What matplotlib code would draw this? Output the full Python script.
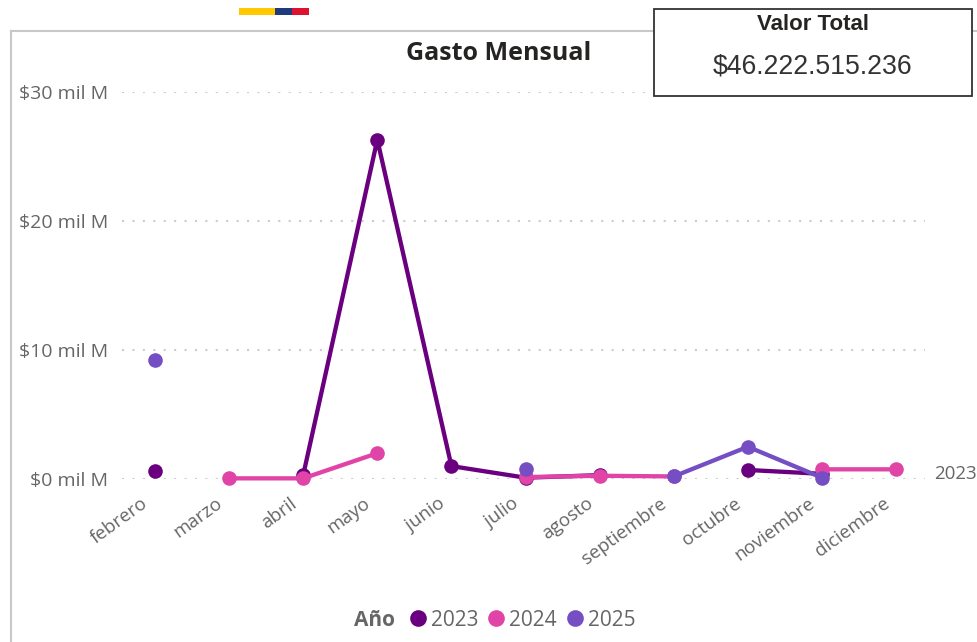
import matplotlib
matplotlib.use("Agg")
import matplotlib.pyplot as plt
from matplotlib.patches import Rectangle
from matplotlib.transforms import ScaledTranslation

W, H = 977, 642
months = ["febrero", "marzo", "abril", "mayo", "junio", "julio", "agosto",
          "septiembre", "octubre", "noviembre", "diciembre"]
nan = float("nan")
gasto_2023 = [0.62, nan, 0.3, 26.3, 1.0, 0.1, 0.3, nan, 0.7, 0.4, nan]
gasto_2024 = [nan, 0.05, 0.05, 2.0, nan, 0.15, 0.25, 0.2, nan, 0.75, 0.75]
gasto_2025 = [9.2, nan, nan, nan, nan, 0.8, nan, 0.2, 2.5, 0.1, nan]
years = ["2023", "2024", "2025"]
colors = ["#6A007F", "#E044A7", "#744EC2"]
y_ticks = [0, 10, 20, 30]
y_labels = ["$0 mil M", "$10 mil M", "$20 mil M", "$30 mil M"]

plt.rcParams["font.family"] = ["Open Sans", "DejaVu Sans"]
gray = "#666666"


def box(x0, y0, x1, y1):
    # pixel box -> figure fractions
    return [x0 / W, 1 - y1 / H, (x1 - x0) / W, (y1 - y0) / H]


fig = plt.figure(figsize=(W / 100, H / 100), dpi=100)

# visual frame, left and top only
fig.add_artist(plt.Line2D([11 / W, 11 / W], [0, 1 - 31 / H], color="#c8c8c8", lw=1.5))
fig.add_artist(plt.Line2D([11 / W, 1], [1 - 31 / H, 1 - 31 / H], color="#c8c8c8", lw=1.5))

# little flag on top
for x0, x1, c in [(239, 275, "#FFC800"), (275, 292, "#1F3A7D"), (292, 309, "#DC1230")]:
    fig.add_artist(Rectangle((x0 / W, 1 - 15 / H), (x1 - x0) / W, 7 / H,
                             transform=fig.transFigure, color=c, lw=0))

ax = fig.add_axes(box(122, 92, 925, 479))
ax.set_xlim(-0.445, 10.39)
ax.set_ylim(0, 30)
ax.patch.set_alpha(0)
for spine in ax.spines.values():
    spine.set_visible(False)

ax.set_yticks(y_ticks)
ax.set_yticklabels(y_labels, fontsize=14, color=gray)
ax.set_xticks(range(len(months)))
ax.set_xticklabels(months, fontsize=13.5, color=gray, rotation=36, ha="right",
                   va="top", rotation_mode="anchor")
ax.tick_params(axis="both", length=0)
ax.tick_params(axis="x", pad=11)
ax.tick_params(axis="y", pad=10)
shift = ScaledTranslation(-14 / 100, 0, fig.dpi_scale_trans)
for label in ax.get_xticklabels():
    label.set_transform(label.get_transform() + shift)
ax.grid(axis="y", color="#cccccc", lw=1.5, linestyle=(0, (1, 4)))
ax.set_axisbelow(True)

for values, year, c in zip([gasto_2023, gasto_2024, gasto_2025], years, colors):
    ax.plot(range(len(months)), values, color=c, lw=3.1, marker="o", ms=10.5,
            mew=0, clip_on=False, label=year)

ax.text(1.0115, 0.012, "2023", transform=ax.transAxes, fontsize=13.5, color=gray,
        ha="left", va="center")

fig.text(499 / W, 1 - 54 / H, "Gasto Mensual", fontsize=18, fontweight="bold",
         color="#252423", ha="center", va="center")

# card with the total
fig.add_artist(Rectangle((654 / W, 1 - 96 / H), 318 / W, 87 / H, transform=fig.transFigure,
                         facecolor="white", edgecolor="#333333", lw=1.3, zorder=5))
fig.text(813 / W, 1 - 24.5 / H, "Valor Total", fontsize=16, fontweight="bold",
         family=["Liberation Sans"], color="#252423", ha="center", va="center", zorder=6)
fig.text(813 / W, 1 - 66.5 / H, "$46.222.515.236", fontsize=19.2, family=["Liberation Sans"],
         color="#333333", ha="center", va="center", zorder=6)

# legend
fig.text(354 / W, 1 - 620 / H, "Año", fontsize=15, fontweight="bold", color=gray,
         ha="left", va="center")
fig.legend(handles=[plt.Line2D([], [], color=c, marker="o", ms=12, mew=0, lw=0, label=y)
                    for c, y in zip(colors, years)],
           loc="center left", bbox_to_anchor=(408 / W, 1 - 620 / H), ncols=3, frameon=False,
           fontsize=15, labelcolor=gray, handlelength=1, handletextpad=0.125,
           columnspacing=0.34, borderpad=0, borderaxespad=0)

plt.savefig("out.png", dpi=100)
plt.close()
